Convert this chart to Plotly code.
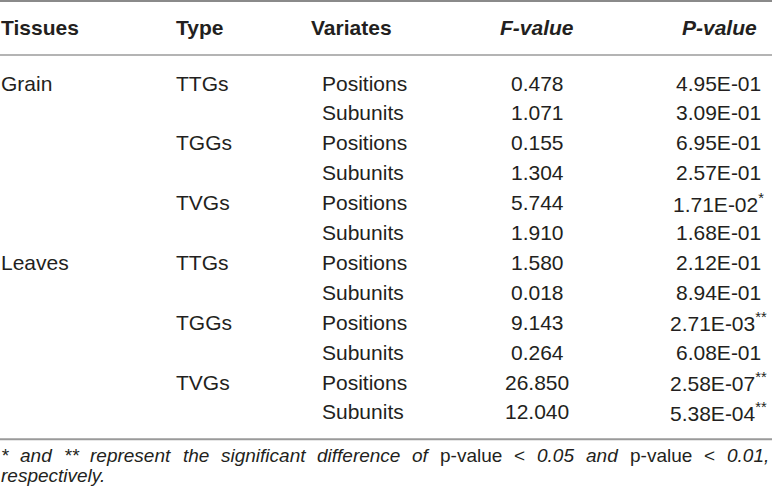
import plotly.graph_objects as go

# Table contents
headers = ["Tissues", "Type", "Variates", "F-value", "P-value"]
tissues = ["Grain", "", "", "", "", "", "Leaves", "", "", "", "", ""]
types = ["TTGs", "", "TGGs", "", "TVGs", "", "TTGs", "", "TGGs", "", "TVGs", ""]
variates = ["Positions", "Subunits"] * 6
f_values = ["0.478", "1.071", "0.155", "1.304", "5.744", "1.910",
            "1.580", "0.018", "9.143", "0.264", "26.850", "12.040"]
p_values = ["4.95E-01", "3.09E-01", "6.95E-01", "2.57E-01", "1.71E-02", "1.68E-01",
            "2.12E-01", "8.94E-01", "2.71E-03", "6.08E-01", "2.58E-07", "5.38E-04"]
p_marks = ["", "", "", "", "*", "", "", "", "**", "", "**", "**"]

# footnote words (justified line) and whether they are italic
foot_words = ["*", "and", "**", "represent", "the", "significant", "difference", "of",
              "p-value", "&lt;", "0.05", "and", "p-value", "&lt;", "0.01,"]
foot_italic = [1, 1, 1, 1, 1, 1, 1, 1, 0, 0, 1, 1, 0, 0, 1]
foot_line2 = "respectively."

# Styles
fontFam = "Liberation Sans, Arial, sans-serif"
textColor = "#231f20"
fontSz = 21
footSz = 19
colX = [0, 175, 321, 537, 718]
colAnchor = ["left", "left", "left", "center", "center"]
headX = [0, 175, 310, 537, 719]
headerRow = -1.84
footRows = [12.47, 13.12]
footX = [0, 19, 63, 89, 182, 220, 316, 411, 439, 513, 536, 585, 629, 703, 726]
lineRows = [-2.74, -0.94, 11.91]
lineColors = ["#8a8a8a", "#b4b4b4", "#9a9a9a"]

fig = go.Figure()
annots = []

def addText(x, y, txt, anchor="left", size=fontSz):
    annots.append(dict(x=x, y=y, text=txt, showarrow=False, xanchor=anchor,
                       yanchor="middle", borderpad=0,
                       font=dict(size=size, color=textColor, family=fontFam)))

# header
for i, h in enumerate(headers):
    txt = "<b>%s</b>" % h
    if h in ("F-value", "P-value"):
        txt = "<b><i>%s</i></b>" % h
    addText(headX[i], headerRow, txt, colAnchor[i])

# body rows
for r in range(len(variates)):
    pTxt = p_values[r] + ("<sup>%s</sup>" % p_marks[r] if p_marks[r] else "")
    cells = [tissues[r], types[r], variates[r], f_values[r], pTxt]
    for c, val in enumerate(cells):
        if val:
            addText(colX[c], r, val, colAnchor[c])

# footnote
for w, it, fx in zip(foot_words, foot_italic, footX):
    addText(fx, footRows[0], "<i>%s</i>" % w if it else w, "left", footSz)
addText(0, footRows[1], "<i>%s</i>" % foot_line2, "left", footSz)

shapes = []
for ly, lc in zip(lineRows, lineColors):
    shapes.append(dict(type="line", xref="x", yref="y", x0=0, x1=772, y0=ly, y1=ly,
                       line=dict(color=lc, width=2)))

fig.update_layout(width=772, height=502, margin=dict(l=0, r=0, t=0, b=0),
                  plot_bgcolor="white", paper_bgcolor="white",
                  annotations=annots, shapes=shapes, showlegend=False)
fig.update_xaxes(range=[0, 772], visible=False, fixedrange=True)
fig.update_yaxes(range=[14.01, -2.776], visible=False, fixedrange=True)

fig.write_html("out.html", config={"displayModeBar": False},
               post_script="document.body.style.margin='0';")
